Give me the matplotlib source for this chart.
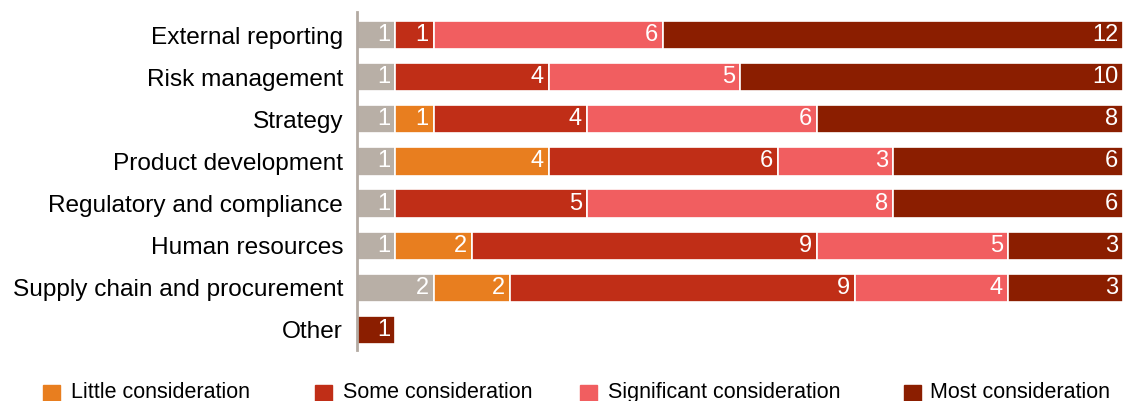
import matplotlib
matplotlib.use("Agg")
import matplotlib.pyplot as plt
from matplotlib.patches import Rectangle

plt.rcParams['font.family'] = ['Liberation Sans', 'DejaVu Sans']

categories = [
    "External reporting",
    "Risk management",
    "Strategy",
    "Product development",
    "Regulatory and compliance",
    "Human resources",
    "Supply chain and procurement",
    "Other",
]

no_consideration = [1, 1, 1, 1, 1, 1, 2, 0]
little = [0, 0, 1, 4, 0, 2, 2, 0]
some = [1, 4, 4, 6, 5, 9, 9, 0]
significant = [6, 5, 6, 3, 8, 5, 4, 0]
most = [12, 10, 8, 6, 6, 3, 3, 1]

series_names = ["No consideration", "Little consideration", "Some consideration",
                "Significant consideration", "Most consideration"]
series_values = [no_consideration, little, some, significant, most]
colors = ["#b8afa6", "#e87e1f", "#c02e17", "#f15e60", "#8b1e00"]

W, H = 1123, 401
fig = plt.figure(figsize=(W / 100, H / 100), dpi=100)
ax = fig.add_axes([357 / W, 1 - 350 / H, 1 - 357 / W, (350 - 12) / H])

y = list(range(len(categories)))
left = [0] * len(categories)
for name, vals, col in zip(series_names, series_values, colors):
    ax.barh(y, vals, left=left, height=0.67, color=col,
            edgecolor="white", linewidth=1.2, label=name)
    for yi, (l, v) in enumerate(zip(left, vals)):
        if v > 0:
            ax.text(l + v - 0.13, yi, str(v), ha="right", va="center",
                    color="white", fontsize=17)
    left = [a + b for a, b in zip(left, vals)]

ax.set_xlim(0, 20)
ax.set_ylim(7.475, -0.546)
ax.set_yticks(y)
ax.set_yticklabels(categories, fontsize=17.6)
ax.tick_params(axis="y", length=0, pad=10)
ax.set_xticks([])
for s in ["top", "right", "bottom"]:
    ax.spines[s].set_visible(False)
ax.spines["left"].set_color("#b3aaa2")
ax.spines["left"].set_linewidth(2)

# Legend row along the bottom edge
legend_items = [
    ("Little consideration", colors[1], 43, 71),
    ("Some consideration", colors[2], 315, 343),
    ("Significant consideration", colors[3], 580, 608),
    ("Most consideration", colors[4], 904, 930),
]
for label, col, sx, tx in legend_items:
    fig.add_artist(Rectangle((sx / W, 1 - 402 / H), 17 / W, 17 / H,
                             transform=fig.transFigure, color=col))
    fig.text(tx / W, 1 - 398 / H, label, fontsize=15.5, va="baseline", ha="left")

fig.savefig("out.png", dpi=100)
